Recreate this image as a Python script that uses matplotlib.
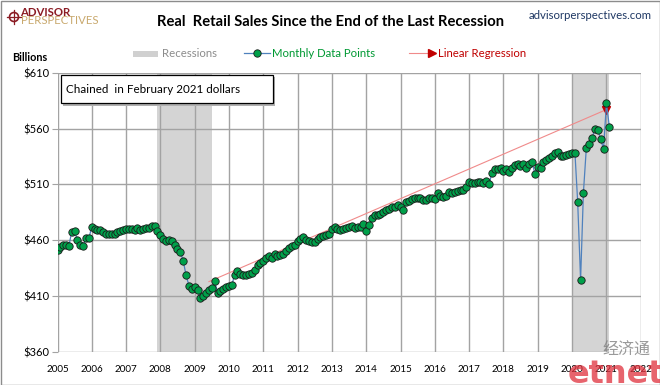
import matplotlib
matplotlib.use("Agg")
import matplotlib.pyplot as plt
from matplotlib.patches import Rectangle, Circle
import pandas as pd

plt.rcParams["font.family"] = ["Lato", "DejaVu Sans"]

# real retail sales, billions of chained Feb-2021 dollars
sales_2005 = [451, 454, 455.5, 456, 454.5, 467.5, 468.5, 460, 456, 454.5, 462, 462]
sales_2006 = [472, 470, 469, 469, 467, 466, 465.4, 465.4, 465.4, 467, 468, 469.5]
sales_2007 = [470.5, 470, 470.5, 469.6, 471.4, 469, 470.5, 471, 471.4, 472.6, 473, 468.5]
sales_2008 = [465, 461.5, 459.5, 460.5, 459.5, 455.5, 452.5, 449.5, 441.5, 428.5, 419.5, 416.5]
sales_2009 = [418, 415.5, 408, 410, 413, 415.5, 417, 423.5, 413, 414.5, 416.5, 418.5]
sales_2010 = [419.5, 420, 429, 432.5, 429.6, 429, 429.3, 430, 431, 433.5, 437.5, 440]
sales_2011 = [441.5, 444, 446, 444, 447.5, 445.5, 447, 447.5, 450, 453, 454.5, 456]
sales_2012 = [459.5, 461.3, 462.5, 460.5, 459.8, 458.9, 458.5, 460.8, 462.5, 463.5, 465, 466]
sales_2013 = [470, 472.3, 470.5, 469.5, 470.5, 471.4, 472.3, 473.2, 471.4, 472.3, 471.8, 474.4]
sales_2014 = [468.5, 474, 480, 482.5, 482.8, 483.7, 485, 487, 488, 490, 489.5, 491.5]
sales_2015 = [489.5, 487.5, 494, 495, 497, 497.5, 497.7, 497.7, 496.2, 496.5, 498, 497.7]
sales_2016 = [497, 502, 500, 499, 499.5, 503.5, 502.2, 503, 504.3, 505.2, 504.8, 508]
sales_2017 = [512, 511.3, 511.5, 512, 512.5, 511.5, 513, 510.5, 520.5, 524, 524, 524.5]
sales_2018 = [522, 523.5, 521.5, 524.5, 527, 528, 526.5, 528, 525, 528, 530.5, 519.5]
sales_2019 = [526, 525, 530.5, 532, 533.5, 535.5, 538, 539, 535, 535, 536, 537.2]
sales_2020 = [538, 538.2, 494.3, 424.5, 502.5, 542.4, 546, 551.3, 559.8, 558.9, 550.6, 541.6]
sales_2021 = [582.5, 561.8]

sales = (sales_2005 + sales_2006 + sales_2007 + sales_2008 + sales_2009 + sales_2010
         + sales_2011 + sales_2012 + sales_2013 + sales_2014 + sales_2015 + sales_2016
         + sales_2017 + sales_2018 + sales_2019 + sales_2020 + sales_2021)
months = pd.date_range("2005-01-01", periods=len(sales), freq="MS")

recession_starts = ["2007-12-01", "2020-01-01"]
recession_ends = ["2009-06-30", "2021-01-31"]

regression_dates = ["2009-06-01", "2021-01-01"]
regression_values = [423, 577]

y_ticks = [360, 410, 460, 510, 560, 610]
years = list(range(2005, 2023))

W, H = 660, 385
GRID = "#a3a3a3"

fig = plt.figure(figsize=(W / 100, H / 100), dpi=100)
fig.patch.set_facecolor("white")

# plot area in pixel terms: x 57.5..640.7, y 72.7..352
ax = fig.add_axes([57.5 / W, 1 - 352 / H, (640.7 - 57.5) / W, (352 - 72.7) / H])

for start, end in zip(recession_starts, recession_ends):
    ax.axvspan(pd.Timestamp(start), pd.Timestamp(end), color="#d4d4d4", lw=0, zorder=0)

ax.plot(pd.to_datetime(regression_dates), regression_values, color="#f08a8a", lw=0.8, zorder=2)
ax.plot(pd.Timestamp(regression_dates[-1]), regression_values[-1], marker="v",
        color="#c00000", ms=6, zorder=2.5)

ax.plot(months, sales, color="#4f81bd", lw=0.9, marker="o", ms=5.3,
        mfc="#00a04a", mec="#1a1a1a", mew=0.6, zorder=3)

ax.set_xlim(pd.Timestamp("2005-01-01"), pd.Timestamp("2022-01-01"))
ax.set_ylim(360, 610)
year_dates = [pd.Timestamp(f"{y}-01-01") for y in years]
ax.set_xticks(year_dates)
ax.set_xticklabels([str(y) for y in years], fontsize=7.1)
ax.set_yticks(y_ticks)
ax.set_yticklabels([f"${v}" for v in y_ticks], fontsize=8)
ax.tick_params(axis="x", length=0, pad=9)
ax.tick_params(axis="y", length=4, color=GRID, pad=2)

ax.set_axisbelow(True)
ax.grid(True, color=GRID, lw=1.0)
for spine in ax.spines.values():
    spine.set_visible(False)

# overlay in pixel coordinates for titles, legend and annotation
over = fig.add_axes([0, 0, 1, 1], zorder=5)
over.set_xlim(0, W)
over.set_ylim(H, 0)
over.axis("off")

over.add_patch(Rectangle((0.5, 0.5), W - 1, H - 1, fill=False, ec="#8c8c8c", lw=1))

# logo
over.add_patch(Circle((14, 17), 4.5, fill=False, ec="#8b1c24", lw=1.2))
over.plot([14, 14], [10, 24], color="#8b1c24", lw=0.9)
over.plot([7, 21], [17, 17], color="#8b1c24", lw=0.9)
over.text(20.5, 12.8, "ADVISOR", fontsize=8.2, fontweight="bold", color="#8b1c24", va="center")
over.text(20.5, 20.8, "PERSPECTIVES", fontsize=8.2, color="#c9a96e", va="center")

over.text(331, 21.5, "Real  Retail Sales Since the End of the Last Recession",
          fontsize=10.6, fontweight="bold", ha="center", va="center")
over.text(652, 15.5, "advisorperspectives.com", fontsize=8.2, color="#1f3864",
          ha="right", va="center")
over.text(12, 57.5, "Billions", fontsize=7.8, fontweight="bold", va="center")

# legend
over.add_patch(Rectangle((133, 50.5), 25, 6, color="#d0d0d0", lw=0))
over.text(162, 53.5, "Recessions", fontsize=8.2, color="#8c8c8c", va="center")
over.plot([244, 270], [53, 53], color="#4f81bd", lw=0.9)
over.plot([257], [53], marker="o", ms=5.3, mfc="#00a04a", mec="#1a1a1a", mew=0.6)
over.text(272.5, 53.5, "Monthly Data Points", fontsize=8.2, color="#009933", va="center")
over.plot([409, 432], [53, 53], color="#f08a8a", lw=0.8)
over.plot([432], [53], marker=">", ms=5.5, color="#c00000")
over.text(438, 53.5, "Linear Regression", fontsize=8.2, color="#c00000", va="center")

# note box
over.add_patch(Rectangle((63, 77), 212, 28.5, color="#b0b0b0", lw=0))
over.add_patch(Rectangle((61, 75), 211.7, 28.3, fc="white", ec="black", lw=0.9))
over.text(66, 89.5, "Chained  in February 2021 dollars", fontsize=8.4, va="center")

# watermark
over.text(626, 350, "经济通", fontsize=11.5, color="#808080", alpha=0.8, ha="center", va="center",
          family=["Noto Sans CJK SC", "DejaVu Sans"])
over.text(616, 383, "etnet", fontsize=23, fontweight="bold", color="#e0303c", alpha=0.75,
          ha="center", va="baseline", family=["DejaVu Sans"])

fig.savefig("out.png", dpi=100)
